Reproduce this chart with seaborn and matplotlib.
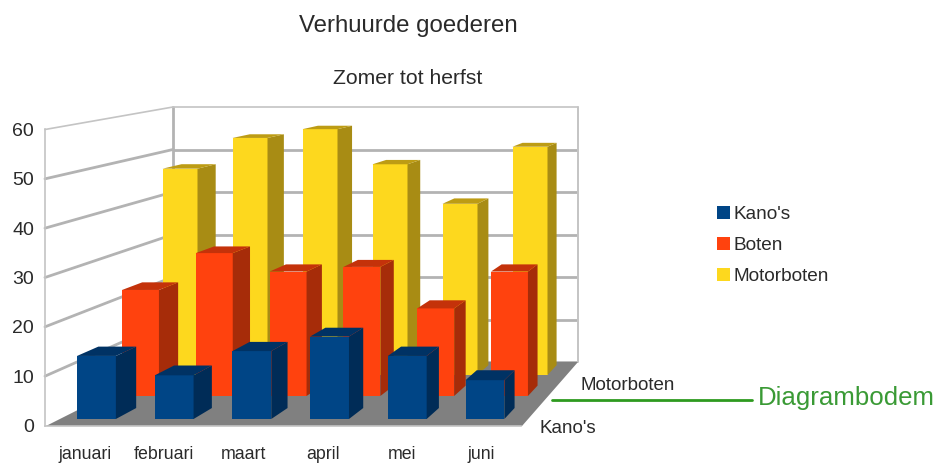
import pandas as pd
import seaborn as sns
from matplotlib import pyplot as plt
from matplotlib.patches import Patch, Polygon

months = ["januari", "februari", "maart", "april", "mei", "juni"]
kanos = [13, 9, 14, 17, 13, 8]
boten = [23, 31, 27, 28, 19, 27]
motorboten = [47, 54, 56, 48, 39, 52]
y_ticks = [0, 10, 20, 30, 40, 50, 60]

W, H = 938, 465
TEXT = "#2a2a2a"
GRID = "#b3b3b3"
# vanishing point of the floor edges, in pixels, and how far the bars go towards it
VP = (897, H + 3)
DEPTH = 0.026

sns.set_style("white")
plt.rcParams["font.family"] = ["Liberation Sans", "DejaVu Sans"]

fig = plt.figure(figsize=(W / 100, H / 100), dpi=100)


def ax_px(left, top, right, bottom, z):
    # axes placed by pixel box of the picture, y running downwards
    ax = fig.add_axes([left / W, 1 - bottom / H, (right - left) / W, (bottom - top) / H], zorder=z)
    ax.patch.set_alpha(0)
    return ax


def to_back(ax, x, y):
    # front corner of a bar -> matching back corner, in the same data units
    px, py = ax.transData.transform((x, y))
    px += DEPTH * (VP[0] - px)
    py += DEPTH * (VP[1] - py)
    return tuple(ax.transData.inverted().transform((px, py)))


# overlay in pixels for walls and floor
room = ax_px(0, 0, W, H, 1)
room.set_xlim(0, W)
room.set_ylim(H, 0)
room.axis("off")

# front axis: carries the tick labels
front = ax_px(45, 129.5, 521, 425.5, 2)
front.set_xlim(-0.5, 5.5)
front.set_ylim(0, 60)
front.set_xticks(range(6), months, fontsize=12.8, color=TEXT)
front.set_yticks(y_ticks, y_ticks, fontsize=14, color=TEXT)
front.tick_params(axis="x", length=0, pad=15)
front.tick_params(axis="y", length=0, pad=8)
sns.despine(ax=front, top=True, right=True)
for side in ["left", "bottom"]:
    front.spines[side].set_color("#c4c4c4")
    front.spines[side].set_linewidth(1.2)

# back wall
back = ax_px(173, 107, 578, 362, 0)
back.set_xlim(0, 1)
back.set_ylim(0, 60)
back.set_yticks(y_ticks[:-1])
back.set_xticks([])
back.tick_params(left=False, labelleft=False)
back.yaxis.grid(True, color=GRID, linewidth=2)
for side in back.spines:
    back.spines[side].set_visible(False)
room.plot([173, 173], [107, 362], color=GRID, lw=2, zorder=1)
room.plot([578, 578], [107, 362], color="#c4c4c4", lw=1.4, zorder=1)
room.plot([173, 578], [107, 107], color="#c4c4c4", lw=1.2, zorder=1)

# side wall lines run from the front axis to the back wall
for v in y_ticks[1:]:
    x0, y0 = front.transData.transform((-0.5, v))
    x1, y1 = back.transData.transform((0, v))
    room.plot([x0, x1], [H - y0, H - y1], color=GRID if v < 60 else "#c4c4c4",
              lw=2 if v < 60 else 1.2, zorder=1)

# floor
room.add_patch(Polygon([(46, 426), (522, 426), (578, 362), (173, 362)], closed=True,
                       facecolor="#808080", edgecolor="none", zorder=2))

series = [
    ("Motorboten", motorboten, "#fdd81e", "#a88c14", "#bd9c14", (145, 565, 375), 4.39, 3),
    ("Boten", boten, "#ff420e", "#a62c09", "#c4320a", (103.6, 546.4, 396), 4.61, 4),
    ("Kano's", kanos, "#004586", "#002c57", "#003264", (57.6, 523.8, 419), 4.85, 5),
]

for name, values, color, side_color, top_color, box, scale, z in series:
    left, right, base = box
    ax = ax_px(left, base - scale * 60, right, base, z)
    df = pd.DataFrame({"maand": months, "aantal": values})
    sns.barplot(data=df, x="maand", y="aantal", color=color, saturation=1, width=0.5,
                linewidth=0, ax=ax)
    ax.set_xlim(-0.5, 5.5)
    ax.set_ylim(0, 60)
    ax.axis("off")
    ax.patch.set_alpha(0)
    for p in list(ax.patches):
        x0, w, h = p.get_x(), p.get_width(), p.get_height()
        x1 = x0 + w
        ax.add_patch(Polygon([(x1, 0), to_back(ax, x1, 0), to_back(ax, x1, h), (x1, h)], closed=True,
                             facecolor=side_color, edgecolor="none", clip_on=False))
        ax.add_patch(Polygon([(x0, h), (x1, h), to_back(ax, x1, h), to_back(ax, x0, h)], closed=True,
                             facecolor=top_color, edgecolor="none", clip_on=False))

# texts and annotation on top
fig.text(408 / W, 1 - 26 / H, "Verhuurde goederen", ha="center", va="center", fontsize=17.3, color=TEXT)
fig.text(408 / W, 1 - 79 / H, "Zomer tot herfst", ha="center", va="center", fontsize=15.2, color=TEXT)
fig.text(628 / W, 1 - 385 / H, "Motorboten", ha="center", va="center", fontsize=13.5, color=TEXT)
fig.text(568 / W, 1 - 428 / H, "Kano's", ha="center", va="center", fontsize=13.5, color=TEXT)
fig.text(846 / W, 1 - 398 / H, "Diagrambodem", ha="center", va="center", fontsize=18.6, color="#3a9a35")

top = ax_px(0, 0, W, H, 6)
top.set_xlim(0, W)
top.set_ylim(H, 0)
top.axis("off")
top.plot([552, 752], [400, 400], color="#2e9a1f", lw=2)

handles = [Patch(facecolor=s[2], edgecolor="none", label=s[0]) for s in reversed(series)]
fig.legend(handles=handles, loc="center left", bbox_to_anchor=(717 / W, 1 - 245.5 / H), frameon=False,
           fontsize=13.7, labelcolor=TEXT, handlelength=0.69, handleheight=0.69,
           handletextpad=0.2, labelspacing=0.74, borderpad=0, borderaxespad=0)

fig.savefig("out.png", dpi=100)
